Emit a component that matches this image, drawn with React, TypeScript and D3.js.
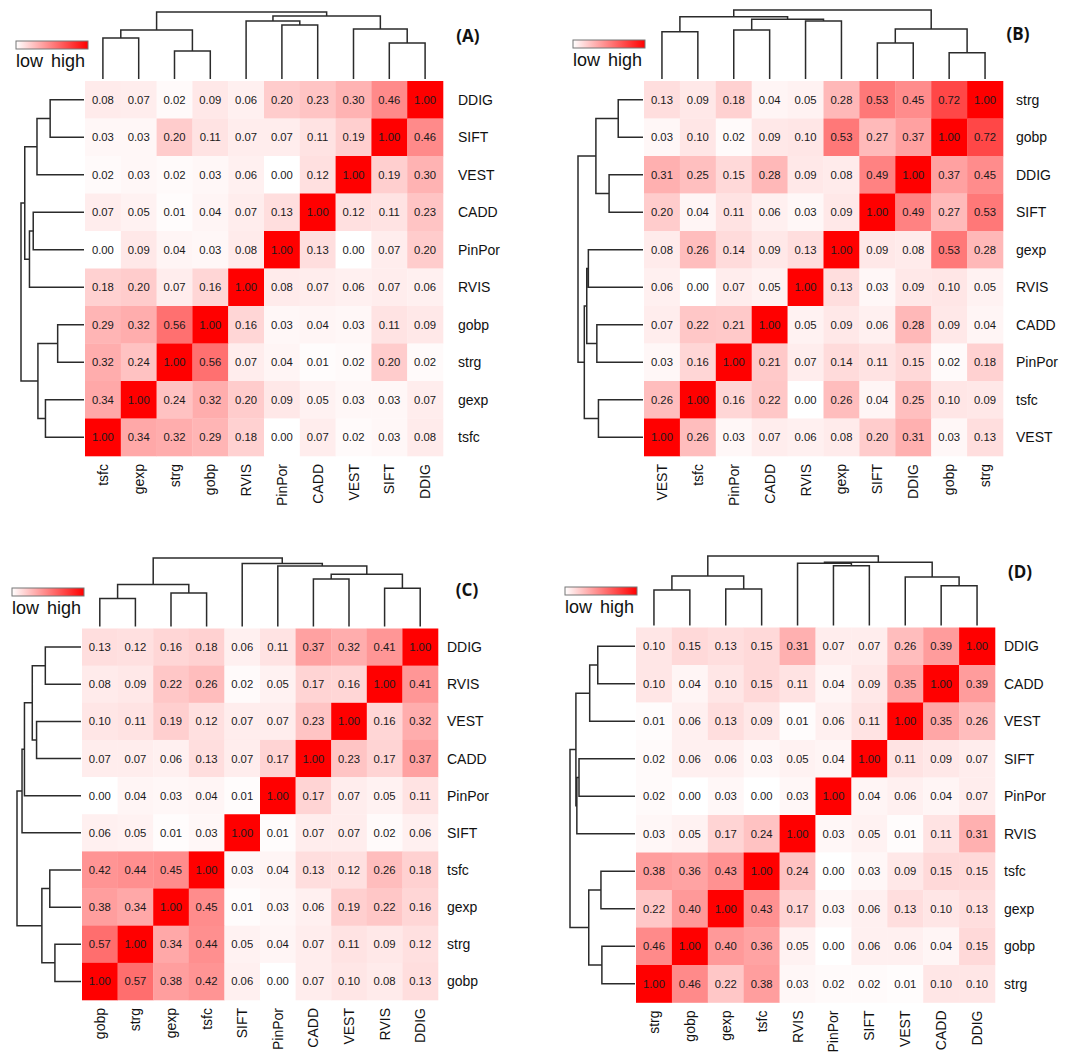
import React, { useEffect, useRef } from 'react';
import * as d3 from 'd3';

// column order (left to right); rows are drawn in the reverse order (top to bottom)
const orderA = ['tsfc', 'gexp', 'strg', 'gobp', 'RVIS', 'PinPor', 'CADD', 'VEST', 'SIFT', 'DDIG'];
const orderB = ['VEST', 'tsfc', 'PinPor', 'CADD', 'RVIS', 'gexp', 'SIFT', 'DDIG', 'gobp', 'strg'];
const orderC = ['gobp', 'strg', 'gexp', 'tsfc', 'SIFT', 'PinPor', 'CADD', 'VEST', 'RVIS', 'DDIG'];
const orderD = ['strg', 'gobp', 'gexp', 'tsfc', 'RVIS', 'PinPor', 'SIFT', 'VEST', 'CADD', 'DDIG'];

// rows as displayed, top to bottom
const valuesA = [
  [0.08, 0.07, 0.02, 0.09, 0.06, 0.2, 0.23, 0.3, 0.46, 1.0],
  [0.03, 0.03, 0.2, 0.11, 0.07, 0.07, 0.11, 0.19, 1.0, 0.46],
  [0.02, 0.03, 0.02, 0.03, 0.06, 0.0, 0.12, 1.0, 0.19, 0.3],
  [0.07, 0.05, 0.01, 0.04, 0.07, 0.13, 1.0, 0.12, 0.11, 0.23],
  [0.0, 0.09, 0.04, 0.03, 0.08, 1.0, 0.13, 0.0, 0.07, 0.2],
  [0.18, 0.2, 0.07, 0.16, 1.0, 0.08, 0.07, 0.06, 0.07, 0.06],
  [0.29, 0.32, 0.56, 1.0, 0.16, 0.03, 0.04, 0.03, 0.11, 0.09],
  [0.32, 0.24, 1.0, 0.56, 0.07, 0.04, 0.01, 0.02, 0.2, 0.02],
  [0.34, 1.0, 0.24, 0.32, 0.2, 0.09, 0.05, 0.03, 0.03, 0.07],
  [1.0, 0.34, 0.32, 0.29, 0.18, 0.0, 0.07, 0.02, 0.03, 0.08],
];
const valuesB = [
  [0.13, 0.09, 0.18, 0.04, 0.05, 0.28, 0.53, 0.45, 0.72, 1.0],
  [0.03, 0.1, 0.02, 0.09, 0.1, 0.53, 0.27, 0.37, 1.0, 0.72],
  [0.31, 0.25, 0.15, 0.28, 0.09, 0.08, 0.49, 1.0, 0.37, 0.45],
  [0.2, 0.04, 0.11, 0.06, 0.03, 0.09, 1.0, 0.49, 0.27, 0.53],
  [0.08, 0.26, 0.14, 0.09, 0.13, 1.0, 0.09, 0.08, 0.53, 0.28],
  [0.06, 0.0, 0.07, 0.05, 1.0, 0.13, 0.03, 0.09, 0.1, 0.05],
  [0.07, 0.22, 0.21, 1.0, 0.05, 0.09, 0.06, 0.28, 0.09, 0.04],
  [0.03, 0.16, 1.0, 0.21, 0.07, 0.14, 0.11, 0.15, 0.02, 0.18],
  [0.26, 1.0, 0.16, 0.22, 0.0, 0.26, 0.04, 0.25, 0.1, 0.09],
  [1.0, 0.26, 0.03, 0.07, 0.06, 0.08, 0.2, 0.31, 0.03, 0.13],
];
const valuesC = [
  [0.13, 0.12, 0.16, 0.18, 0.06, 0.11, 0.37, 0.32, 0.41, 1.0],
  [0.08, 0.09, 0.22, 0.26, 0.02, 0.05, 0.17, 0.16, 1.0, 0.41],
  [0.1, 0.11, 0.19, 0.12, 0.07, 0.07, 0.23, 1.0, 0.16, 0.32],
  [0.07, 0.07, 0.06, 0.13, 0.07, 0.17, 1.0, 0.23, 0.17, 0.37],
  [0.0, 0.04, 0.03, 0.04, 0.01, 1.0, 0.17, 0.07, 0.05, 0.11],
  [0.06, 0.05, 0.01, 0.03, 1.0, 0.01, 0.07, 0.07, 0.02, 0.06],
  [0.42, 0.44, 0.45, 1.0, 0.03, 0.04, 0.13, 0.12, 0.26, 0.18],
  [0.38, 0.34, 1.0, 0.45, 0.01, 0.03, 0.06, 0.19, 0.22, 0.16],
  [0.57, 1.0, 0.34, 0.44, 0.05, 0.04, 0.07, 0.11, 0.09, 0.12],
  [1.0, 0.57, 0.38, 0.42, 0.06, 0.0, 0.07, 0.1, 0.08, 0.13],
];
const valuesD = [
  [0.1, 0.15, 0.13, 0.15, 0.31, 0.07, 0.07, 0.26, 0.39, 1.0],
  [0.1, 0.04, 0.1, 0.15, 0.11, 0.04, 0.09, 0.35, 1.0, 0.39],
  [0.01, 0.06, 0.13, 0.09, 0.01, 0.06, 0.11, 1.0, 0.35, 0.26],
  [0.02, 0.06, 0.06, 0.03, 0.05, 0.04, 1.0, 0.11, 0.09, 0.07],
  [0.02, 0.0, 0.03, 0.0, 0.03, 1.0, 0.04, 0.06, 0.04, 0.07],
  [0.03, 0.05, 0.17, 0.24, 1.0, 0.03, 0.05, 0.01, 0.11, 0.31],
  [0.38, 0.36, 0.43, 1.0, 0.24, 0.0, 0.03, 0.09, 0.15, 0.15],
  [0.22, 0.4, 1.0, 0.43, 0.17, 0.03, 0.06, 0.13, 0.1, 0.13],
  [0.46, 1.0, 0.4, 0.36, 0.05, 0.0, 0.06, 0.06, 0.04, 0.15],
  [1.0, 0.46, 0.22, 0.38, 0.03, 0.02, 0.02, 0.01, 0.1, 0.1],
];

// hierarchical merges: [left, right, height]; "mN" refers to merge N
const mergesA = [
  ['SIFT', 'DDIG', 36], ['strg', 'gobp', 28], ['tsfc', 'gexp', 41], ['PinPor', 'CADD', 54],
  ['m2', 'm1', 49], ['VEST', 'm0', 50], ['RVIS', 'm3', 58], ['m6', 'm5', 63], ['m4', 'm7', 67],
];
const mergesB = [
  ['VEST', 'tsfc', 47.3], ['PinPor', 'CADD', 49], ['RVIS', 'gexp', 58], ['m1', 'm2', 59.7],
  ['m0', 'm3', 62.3], ['SIFT', 'DDIG', 36], ['gobp', 'strg', 26.3], ['m5', 'm6', 50], ['m4', 'm7', 69],
];
const mergesC = [
  ['gobp', 'strg', 28], ['gexp', 'tsfc', 33.5], ['m0', 'm1', 42], ['CADD', 'VEST', 47.7],
  ['RVIS', 'DDIG', 38.3], ['m3', 'm4', 52.3], ['PinPor', 'm5', 60.7], ['SIFT', 'm6', 63.3], ['m2', 'm7', 68.7],
];
const mergesD = [
  ['strg', 'gobp', 35.3], ['gexp', 'tsfc', 36.3], ['m0', 'm1', 49.3], ['PinPor', 'SIFT', 59.7],
  ['RVIS', 'm3', 62], ['CADD', 'DDIG', 39.7], ['VEST', 'm5', 48.3], ['m4', 'm6', 63], ['m2', 'm7', 69.3],
];

const panelLabels = ['(A)', '(B)', '(C)', '(D)'];

const layouts = [
  { x0: 85, y0: 81, cw: 35.8, ch: 37.5, topRoot: 12, leftRoot: 21, rowGap: 15, title: [468, 42], legend: [16, 41, 67] },
  { x0: 644, y0: 81, cw: 35.9, ch: 37.5, topRoot: 10, leftRoot: 578, rowGap: 13, title: [1018, 40], legend: [573, 40, 65.5] },
  { x0: 82, y0: 628.5, cw: 35.6, ch: 37.15, topRoot: 558, leftRoot: 17, rowGap: 9, title: [467, 596], legend: [12, 588, 613.5] },
  { x0: 636, y0: 627.5, cw: 35.9, ch: 37.5, topRoot: 556, leftRoot: 570, rowGap: 9, title: [1020, 578], legend: [565, 587, 612.5] },
];

const FONT = '"Liberation Sans", Arial, sans-serif';

export default function App() {
  const ref = useRef<SVGSVGElement>(null);

  useEffect(() => {
    const svg = d3.select(ref.current);
    svg.selectAll('*').remove();

    const color = d3.scaleLinear<string>().domain([0, 1]).range(['#ffffff', '#ff0000']);

    const grad = svg.append('defs').append('linearGradient').attr('id', 'lowhigh');
    grad.append('stop').attr('offset', '0%').attr('stop-color', color(0));
    grad.append('stop').attr('offset', '100%').attr('stop-color', color(1));

    const panels = [
      { order: orderA, values: valuesA, merges: mergesA },
      { order: orderB, values: valuesB, merges: mergesB },
      { order: orderC, values: valuesC, merges: mergesC },
      { order: orderD, values: valuesD, merges: mergesD },
    ];

    panels.forEach((p, pi) => {
      const L = layouts[pi];
      const n = p.order.length;
      const rows = p.order.slice().reverse();
      const g = svg.append('g');

      const x = d3.scaleBand().domain(p.order).range([L.x0, L.x0 + L.cw * n]);
      const y = d3.scaleBand().domain(rows).range([L.y0, L.y0 + L.ch * n]);
      const right = L.x0 + L.cw * n;
      const bottom = L.y0 + L.ch * n;

      // cells
      rows.forEach((r, ri) => {
        p.order.forEach((c, ci) => {
          const v = p.values[ri][ci];
          g.append('rect')
            .attr('x', x(c))
            .attr('y', y(r))
            .attr('width', x.bandwidth() + 0.3)
            .attr('height', y.bandwidth() + 0.3)
            .attr('fill', color(v));
          g.append('text')
            .attr('x', x(c) + x.bandwidth() / 2)
            .attr('y', y(r) + y.bandwidth() / 2)
            .attr('text-anchor', 'middle')
            .attr('dominant-baseline', 'central')
            .attr('font-family', FONT)
            .attr('font-size', 11.3)
            .attr('fill', '#1a1a1a')
            .text(v.toFixed(2));
        });
      });

      // row labels
      rows.forEach((r) => {
        g.append('text')
          .attr('x', right + L.rowGap)
          .attr('y', y(r) + y.bandwidth() / 2)
          .attr('dominant-baseline', 'central')
          .attr('font-family', FONT)
          .attr('font-size', 14)
          .attr('fill', '#111')
          .text(r);
      });

      // column labels
      p.order.forEach((c) => {
        g.append('text')
          .attr('transform', `translate(${x(c) + x.bandwidth() / 2},${bottom + 8}) rotate(-90)`)
          .attr('text-anchor', 'end')
          .attr('dominant-baseline', 'central')
          .attr('font-family', FONT)
          .attr('font-size', 14)
          .attr('fill', '#111')
          .text(c);
      });

      // dendrograms
      const rootH = d3.max(p.merges, (m) => m[2] as number) as number;
      const hTop = d3.scaleLinear().domain([0, rootH]).range([L.y0 - 2, L.topRoot]);
      const hLeft = d3.scaleLinear().domain([0, rootH]).range([L.x0 - 1, L.leftRoot]);

      const posTop = new Map<string, number>();
      const posLeft = new Map<string, number>();
      const heights = new Map<string, number>();
      p.order.forEach((c) => {
        posTop.set(c, x(c) + x.bandwidth() / 2);
        posLeft.set(c, y(c) + y.bandwidth() / 2);
        heights.set(c, 0);
      });

      const top = d3.path();
      const left = d3.path();
      p.merges.forEach((m, mi) => {
        const a = m[0] as string;
        const b = m[1] as string;
        const h = m[2] as number;
        const key = `m${mi}`;
        const ax = posTop.get(a)!;
        const bx = posTop.get(b)!;
        top.moveTo(ax, hTop(heights.get(a)!));
        top.lineTo(ax, hTop(h));
        top.lineTo(bx, hTop(h));
        top.lineTo(bx, hTop(heights.get(b)!));
        const ay = posLeft.get(a)!;
        const by = posLeft.get(b)!;
        left.moveTo(hLeft(heights.get(a)!), ay);
        left.lineTo(hLeft(h), ay);
        left.lineTo(hLeft(h), by);
        left.lineTo(hLeft(heights.get(b)!), by);
        posTop.set(key, (ax + bx) / 2);
        posLeft.set(key, (ay + by) / 2);
        heights.set(key, h);
      });
      [top, left].forEach((pth) => {
        g.append('path')
          .attr('d', pth.toString())
          .attr('fill', 'none')
          .attr('stroke', '#2b2b2b')
          .attr('stroke-width', 1.5);
      });

      // legend
      const [lx, ly, lb] = L.legend;
      g.append('rect')
        .attr('x', lx)
        .attr('y', ly)
        .attr('width', 72)
        .attr('height', 8)
        .attr('fill', 'url(#lowhigh)')
        .attr('stroke', '#777')
        .attr('stroke-width', 1);
      g.append('text')
        .attr('x', lx)
        .attr('y', lb)
        .attr('font-family', FONT)
        .attr('font-size', 18)
        .attr('fill', '#111')
        .text('low');
      g.append('text')
        .attr('x', lx + 35)
        .attr('y', lb)
        .attr('font-family', FONT)
        .attr('font-size', 18)
        .attr('fill', '#111')
        .text('high');

      // panel title
      g.append('text')
        .attr('x', L.title[0])
        .attr('y', L.title[1])
        .attr('text-anchor', 'middle')
        .attr('font-family', '"Open Sans", "Noto Sans", sans-serif')
        .attr('font-weight', 700)
        .attr('font-size', 17)
        .attr('fill', '#111')
        .text(panelLabels[pi]);
    });
  }, []);

  return (
    <svg
      ref={ref}
      width={1075}
      height={1053}
      style={{ position: 'absolute', left: 0, top: 0, background: '#fff' }}
    />
  );
}
